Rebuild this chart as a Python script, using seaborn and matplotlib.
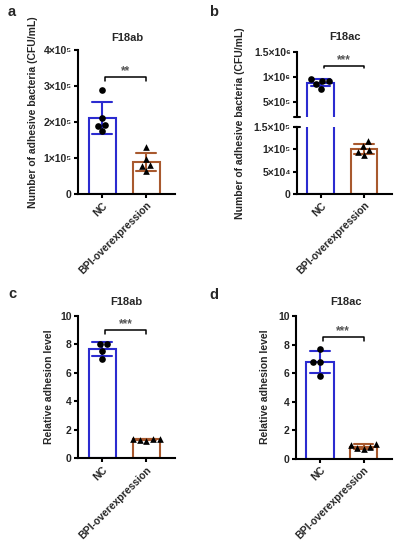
import numpy as np
import pandas as pd
import matplotlib
matplotlib.use("Agg")
import matplotlib.pyplot as plt
import seaborn as sns

sns.set_style("ticks")
plt.rcParams['font.family'] = ['Liberation Sans', 'DejaVu Sans']
plt.rcParams['font.weight'] = 'bold'

groups = ["NC", "BPI-overexpression"]
colors = {"NC": "#2B2BD0", "BPI-overexpression": "#A8592E"}
markers = {"NC": "o", "BPI-overexpression": "^"}

# panel a (CFU/mL)
a_nc = [2.89e5, 2.11e5, 1.89e5, 1.92e5, 1.75e5]
a_bpi = [1.30e5, 0.97e5, 0.78e5, 0.80e5, 0.64e5]
# panel b (CFU/mL)
b_nc = [0.92e6, 0.96e6, 0.93e6, 0.86e6, 0.77e6]
b_bpi = [1.18e5, 0.98e5, 1.07e5, 0.94e5, 0.87e5]
# panel c (relative)
c_nc = [8.05, 8.00, 7.55, 7.00]
c_bpi = [1.38, 1.36, 1.34, 1.32, 1.22]
# panel d (relative)
d_nc = [7.72, 6.78, 6.78, 5.80]
d_bpi = [1.05, 0.98, 0.85, 0.72, 0.65]

titles = ["F18ab", "F18ac", "F18ab", "F18ac"]
sig = ["**", "***", "***", "***"]
ylab_cfu = "Number of adhesive bacteria (CFU/mL)"
ylab_rel = "Relative adhesion level"

a_ticks = [0, 1e5, 2e5, 3e5, 4e5]
a_ticklabels = ["0", "1×10⁵", "2×10⁵", "3×10⁵", "4×10⁵"]
b_top_ticks = [5e5, 1e6, 1.5e6]
b_top_labels = ["5×10⁵", "1×10⁶", "1.5×10⁶"]
b_bot_ticks = [0, 5e4, 1e5, 1.5e5]
b_bot_labels = ["0", "5×10⁴", "1×10⁵", "1.5×10⁵"]
rel_ticks = [0, 2, 4, 6, 8, 10]

FS = 7.5
LW = 1.5

W, H = 398, 550
fig = plt.figure(figsize=(W / 100, H / 100), dpi=100)


def rect(x0, x1, ytop, ybot):
    return [x0 / W, 1 - ybot / H, (x1 - x0) / W, (ybot - ytop) / H]


def make_df(nc, bpi):
    return pd.DataFrame({"group": ["NC"] * len(nc) + ["BPI-overexpression"] * len(bpi),
                         "val": list(nc) + list(bpi)})


def draw(ax, df):
    sns.barplot(data=df, x="group", y="val", hue="group", order=groups, hue_order=groups,
                palette=colors, fill=False, errorbar="sd", capsize=0.45, width=0.62,
                linewidth=LW, err_kws={"linewidth": LW}, legend=False, ax=ax)
    for g in groups:
        sub = df[df.group == g]
        sns.swarmplot(data=sub, x="group", y="val", order=groups, marker=markers[g],
                      color="black", size=4.8, ax=ax)
    ax.set_xlabel("")
    ax.set_ylabel("")
    ax.set_xlim(-0.55, 1.65)


def style(ax, bottom=True):
    sns.despine(ax=ax, top=True, right=True, bottom=not bottom)
    for s in ["left", "bottom"]:
        ax.spines[s].set_linewidth(LW)
        ax.spines[s].set_color("black")
    ax.tick_params(axis="both", width=LW, length=3, labelsize=FS, color="black", pad=1.5)
    for t in ax.get_yticklabels():
        t.set_fontweight("bold")
    if bottom:
        ax.set_xticks(range(len(groups)))
        ax.set_xticklabels(groups, rotation=45, ha="right", rotation_mode="anchor",
                           fontsize=FS, fontweight="bold")
    else:
        ax.tick_params(axis="x", bottom=False, labelbottom=False)


def bracket(ax, y, dy, text):
    ax.plot([0.07, 0.07, 1.0, 1.0], [y - dy, y, y, y - dy], color="black", lw=1.1,
            clip_on=False)
    ax.text(0.53, y, text, ha="center", va="bottom", fontsize=FS + 1, color="#555555",
            clip_on=False)


# ---- panel a
ax_a = fig.add_axes(rect(78, 175, 50, 194))
draw(ax_a, make_df(a_nc, a_bpi))
ax_a.set_ylim(0, 4e5)
ax_a.set_yticks(a_ticks)
ax_a.set_yticklabels(a_ticklabels)
style(ax_a)
bracket(ax_a, 3.25e5, 0.1e5, sig[0])

# ---- panel b (broken axis)
ax_bt = fig.add_axes(rect(297, 392, 51.7, 117))
ax_bb = fig.add_axes(rect(297, 392, 127, 194))
dfb = make_df(b_nc, b_bpi)
draw(ax_bt, dfb)
draw(ax_bb, dfb)
ax_bt.set_ylim(2.1e5, 1.5e6)
ax_bt.set_yticks(b_top_ticks)
ax_bt.set_yticklabels(b_top_labels)
ax_bb.set_ylim(0, 1.5e5)
ax_bb.set_yticks(b_bot_ticks)
ax_bb.set_yticklabels(b_bot_labels)
style(ax_bt, bottom=False)
style(ax_bb)
# cap at the break
ax_bt.plot([-0.035, 0.035], [0, 0], transform=ax_bt.transAxes, color="black", lw=LW, clip_on=False)
ax_bb.plot([-0.035, 0.035], [1, 1], transform=ax_bb.transAxes, color="black", lw=LW, clip_on=False)
bracket(ax_bt, 1.22e6, 0.04e6, sig[1])

# ---- panel c
ax_c = fig.add_axes(rect(78, 175, 316, 458.3))
draw(ax_c, make_df(c_nc, c_bpi))
ax_c.set_ylim(0, 10)
ax_c.set_yticks(rel_ticks)
style(ax_c)
bracket(ax_c, 9.0, 0.25, sig[2])

# ---- panel d
ax_d = fig.add_axes(rect(296, 392, 316, 458.7))
draw(ax_d, make_df(d_nc, d_bpi))
ax_d.set_ylim(0, 10)
ax_d.set_yticks(rel_ticks)
style(ax_d)
bracket(ax_d, 8.5, 0.25, sig[3])

# titles, y-labels, panel letters
for (x, y, t) in [(127, 38, titles[0]), (345, 37, titles[1]),
                  (126, 302, titles[2]), (346, 302, titles[3])]:
    fig.text(x / W, 1 - y / H, t, ha="center", va="center", fontsize=8, fontweight="bold")
for (x, y, t) in [(33, 112, ylab_cfu), (240, 123, ylab_cfu),
                  (49, 387, ylab_rel), (265, 387, ylab_rel)]:
    fig.text(x / W, 1 - y / H, t, ha="center", va="center", rotation=90, fontsize=7.5,
             fontweight="bold")
for (x, y, t) in [(12, 12, "a"), (214, 12, "b"), (12, 294, "c"), (214, 295, "d")]:
    fig.text(x / W, 1 - y / H, t, ha="center", va="center", fontsize=10.5, fontweight="bold")

fig.savefig("out.png", dpi=100)
